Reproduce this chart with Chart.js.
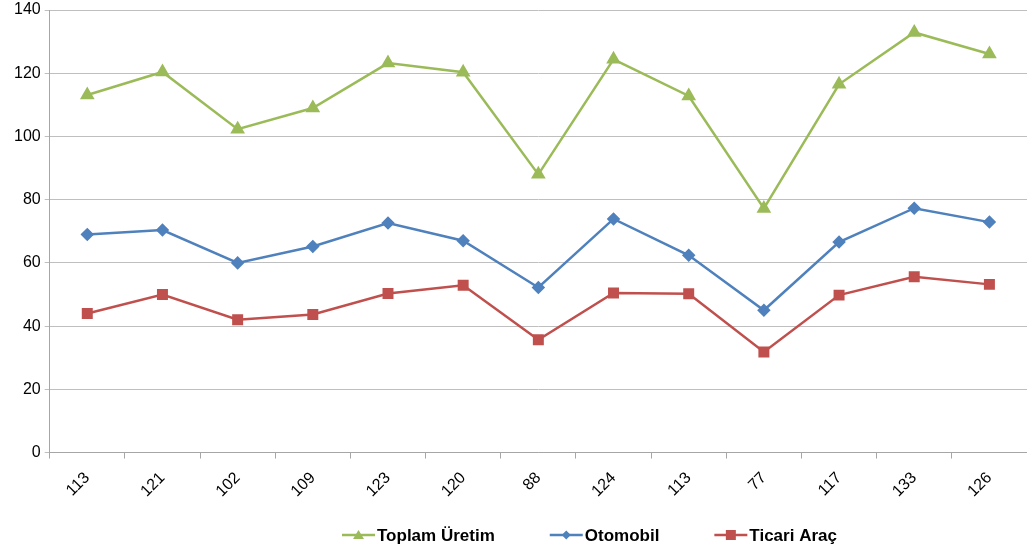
<!DOCTYPE html>
<html>
<head>
<meta charset="utf-8">
<script src="https://cdn.jsdelivr.net/npm/chart.js@4/dist/chart.umd.min.js"></script>
<style>
  html, body { margin: 0; padding: 0; background: #fff; overflow: hidden; }
  canvas { display: block; }
</style>
</head>
<body>
<canvas id="lineChart" width="1027" height="551"></canvas>
<script>
// Kategoriler (x ekseni) ve seriler
const categories = ['113', '121', '102', '109', '123', '120', '88', '124', '113', '77', '117', '133', '126'];
const toplamUretim = [113.1, 120.4, 102.3, 109.0, 123.2, 120.3, 88.0, 124.4, 112.8, 77.2, 116.5, 132.9, 126.1];
const otomobil = [69.0, 70.4, 60.0, 65.2, 72.6, 67.0, 52.2, 73.9, 62.4, 45.0, 66.6, 77.3, 72.9];
const ticariArac = [44.0, 50.0, 42.0, 43.7, 50.3, 52.9, 35.7, 50.5, 50.2, 31.8, 49.8, 55.6, 53.2];
const yTicks = [0, 20, 40, 60, 80, 100, 120, 140];

const green = '#9BBB59';
const blue = '#4F81BD';
const red = '#C0504D';
const shapes = ['triangle', 'diamond', 'rect'];

function drawMarker(g, shape, x, y) {
    g.beginPath();
    if (shape === 'triangle') {
        g.moveTo(x, y - 5); g.lineTo(x + 5.5, y + 4); g.lineTo(x - 5.5, y + 4);
    } else if (shape === 'diamond') {
        g.moveTo(x, y - 4.5); g.lineTo(x + 4.5, y); g.lineTo(x, y + 4.5); g.lineTo(x - 4.5, y);
    } else {
        g.rect(x - 5, y - 5, 10, 10);
    }
    g.closePath();
    g.fill();
}

// Excel-style legend under the chart: line + marker, then bold text
const bottomLegend = {
    id: 'bottomLegend',
    afterDraw(chart) {
        const g = chart.ctx;
        const y = 535;
        let x = 342;
        g.save();
        g.font = 'bold 17px "Liberation Sans"';
        g.textBaseline = 'middle';
        chart.data.datasets.forEach((ds, i) => {
            g.strokeStyle = ds.borderColor;
            g.fillStyle = ds.borderColor;
            g.lineWidth = 2.5;
            g.beginPath();
            g.moveTo(x, y);
            g.lineTo(x + 33, y);
            g.stroke();
            drawMarker(g, shapes[i], x + 16.5, y);
            g.fillStyle = '#000';
            g.fillText(ds.label, x + 35, y + 1);
            x += 35 + g.measureText(ds.label).width + 55;
        });
        g.restore();
    }
};

const ctx = document.getElementById('lineChart').getContext('2d');
const chart = new Chart(ctx, {
    type: 'line',
    data: {
        labels: categories,
        datasets: [{
            label: 'Toplam Üretim',
            data: toplamUretim,
            borderColor: green,
            backgroundColor: green,
            borderWidth: 2.5,
            pointStyle: 'triangle',
            pointRadius: 6,
            tension: 0
        }, {
            label: 'Otomobil',
            data: otomobil,
            borderColor: blue,
            backgroundColor: blue,
            borderWidth: 2.5,
            pointStyle: 'rectRot',
            pointRadius: 5,
            tension: 0
        }, {
            label: 'Ticari Araç',
            data: ticariArac,
            borderColor: red,
            backgroundColor: red,
            borderWidth: 2.5,
            pointStyle: 'rect',
            pointRadius: 6,
            tension: 0
        }]
    },
    options: {
        responsive: false,
        animation: false,
        // plot runs a little past the right edge, like the original
        layout: { autoPadding: false, padding: { left: 10, right: -6, top: 10, bottom: 40 } },
        plugins: {
            tooltip: { enabled: false },
            legend: { display: false }
        },
        scales: {
            x: {
                offset: true,
                grid: {
                    offset: true,
                    drawOnChartArea: false,
                    drawTicks: true,
                    tickLength: 6,
                    color: '#A6A6A6'
                },
                border: { color: '#A6A6A6', width: 1 },
                ticks: {
                    minRotation: 45,
                    maxRotation: 45,
                    color: '#000',
                    padding: 10,
                    font: { family: 'Liberation Sans', size: 16 }
                }
            },
            y: {
                min: 0,
                max: 140,
                afterFit: s => { s.paddingTop = 0; },
                afterBuildTicks: axis => { axis.ticks = yTicks.map(v => ({ value: v })); },
                grid: {
                    color: '#BFBFBF',
                    lineWidth: 1,
                    tickLength: 5
                },
                border: { color: '#A6A6A6', width: 1 },
                ticks: {
                    color: '#000',
                    padding: 4,
                    font: { family: 'Liberation Sans', size: 16 }
                }
            }
        }
    },
    plugins: [bottomLegend]
});
</script>
</body>
</html>
